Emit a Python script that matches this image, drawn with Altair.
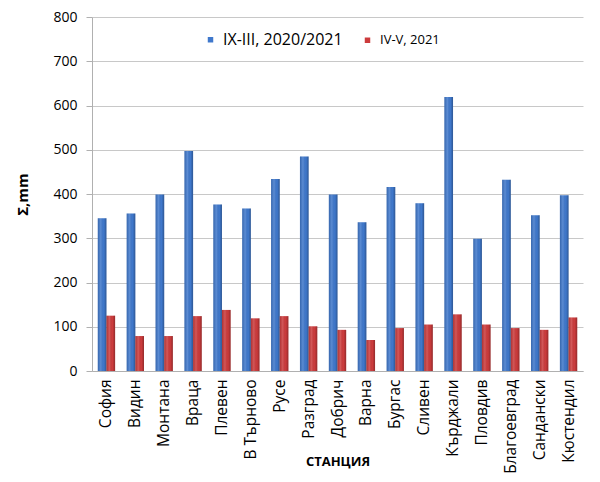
import altair as alt
import pandas as pd

stations = ["София", "Видин", "Монтана", "Враца", "Плевен", "В Търново", "Русе",
            "Разград", "Добрич", "Варна", "Бургас", "Сливен", "Кърджали", "Пловдив",
            "Благоевград", "Сандански", "Кюстендил"]
series_names = ["IX-III, 2020/2021", "IV-V, 2021"]
s_winter = [345, 356, 399, 497, 376, 367, 434, 485, 399, 336, 416, 379, 619, 299, 432, 352, 397]
s_spring = [125, 79, 79, 124, 138, 119, 124, 101, 93, 70, 97, 105, 128, 105, 97, 93, 121]
colors = ["#3f78cc", "#cc3b3c"]

rows = []
for i, st in enumerate(stations):
    rows.append({"station": st, "series": series_names[0], "value": s_winter[i]})
    rows.append({"station": st, "series": series_names[1], "value": s_spring[i]})
df = pd.DataFrame(rows)

FONT = "Open Sans"

x = alt.X("station:N", sort=stations,
          scale=alt.Scale(paddingInner=0.4, paddingOuter=0.2),
          axis=alt.Axis(title="СТАНЦИЯ", labelAngle=-90, labelAlign="right",
                        labelBaseline="middle", labelFontSize=15.5, labelPadding=8,
                        ticks=False, domainColor="#b0b0b0", labelColor="#000",
                        titleFontSize=13, titleFontWeight="bold",
                        titleY=94, titleBaseline="alphabetic",
                        titleColor="#000", labelFont=FONT, titleFont=FONT))
xo = alt.XOffset("series:N", sort=series_names)
y = alt.Y("value:Q", scale=alt.Scale(domain=[0, 800]),
          axis=alt.Axis(title="Σ,mm", values=list(range(0, 801, 100)), tickSize=6,
                        tickColor="#b0b0b0", domainColor="#b0b0b0", gridColor="#c8c8c8",
                        labelFontSize=14, labelPadding=9, labelColor="#000",
                        titleFontSize=15, titleFontWeight="bold", titleColor="#000",
                        titlePadding=22, labelFont=FONT, titleFont=FONT))

bars = alt.Chart(df).mark_bar().encode(
    x=x, xOffset=xo, y=y,
    color=alt.Color("series:N", sort=series_names,
                    scale=alt.Scale(domain=series_names, range=colors),
                    legend=alt.Legend(title=None, orient="none", direction="horizontal",
                                      legendX=112, legendY=16, symbolType="square",
                                      symbolSize=30, symbolStrokeWidth=0,
                                      labelFont=FONT, labelColor="#000",
                                      labelFontSize=alt.ExprRef("datum.index == 0 ? 16 : 13"),
                                      columnPadding=18, labelOffset=6)),
)

shade = alt.Chart(df).mark_bar(
    fill=alt.Gradient(gradient="linear", x1=0, x2=1, y1=0, y2=0,
                      stops=[alt.GradientStop(offset=0, color="rgba(0,0,0,0.15)"),
                             alt.GradientStop(offset=0.35, color="rgba(255,255,255,0.15)"),
                             alt.GradientStop(offset=0.7, color="rgba(0,0,0,0.0)"),
                             alt.GradientStop(offset=1, color="rgba(0,0,0,0.28)")])
).encode(x=x, xOffset=xo, y=y)

chart = alt.layer(bars, shade).properties(
    width=491, height=354,
    autosize=alt.AutoSizeParams(type="none"),
    padding={"left": 84, "top": 9, "right": 9, "bottom": 103},
).configure_view(stroke=None)

chart.save("out.html", embed_options={"renderer": "svg", "actions": False})
